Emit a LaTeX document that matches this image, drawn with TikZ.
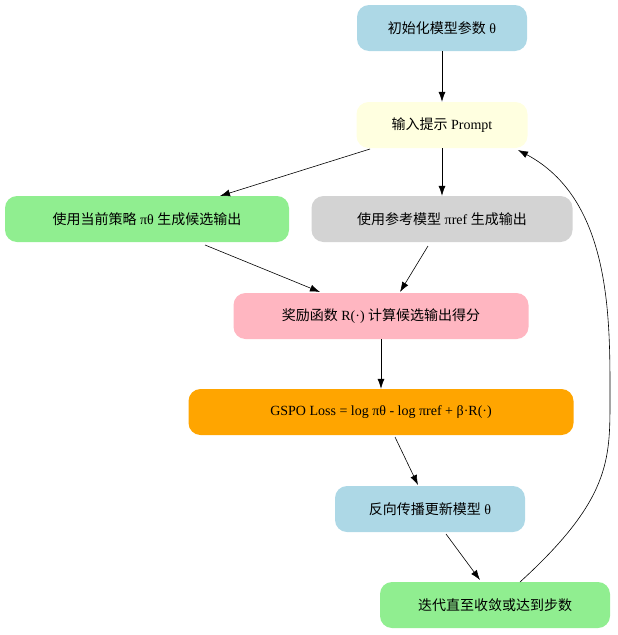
\documentclass[tikz,border=0pt]{standalone}
\usepackage{fontspec}
\setmainfont{Liberation Serif}
\newfontfamily\cjk{Noto Sans CJK SC}
\usetikzlibrary{arrows.meta}
\begin{document}
\begin{tikzpicture}[x=1pt,y=-1pt,
  box/.style={rounded corners=12pt,minimum height=46pt,inner sep=0pt,font=\fontsize{14}{16}\selectfont,anchor=center},
  arr/.style={-{Latex[length=10pt,width=7pt]},black,line width=0.6pt}]
\useasboundingbox (0,0) rectangle (618,635);
\node[box,fill=cyan!15!blue!5!white,fill={rgb,255:red,173;green,216;blue,230},minimum width=170pt] (n1) at (442,28) {{\cjk 初始化模型参数} θ};
\node[box,fill={rgb,255:red,255;green,255;blue,224},minimum width=171pt] (n2) at (442,125) {{\cjk 输入提示} Prompt};
\node[box,fill={rgb,255:red,144;green,238;blue,144},minimum width=284pt] (n3) at (147,219) {{\cjk 使用当前策略} πθ {\cjk 生成候选输出}};
\node[box,fill={rgb,255:red,211;green,211;blue,211},minimum width=261pt] (n4) at (442,219) {{\cjk 使用参考模型} πref {\cjk 生成输出}};
\node[box,fill={rgb,255:red,255;green,182;blue,193},minimum width=295pt] (n5) at (381,316) {{\cjk 奖励函数} R(·) {\cjk 计算候选输出得分}};
\node[box,fill={rgb,255:red,255;green,165;blue,0},minimum width=385pt] (n6) at (381,412) {GSPO Loss = log πθ - log πref + β·R(·)};
\node[box,fill={rgb,255:red,173;green,216;blue,230},minimum width=190pt] (n7) at (430,509) {{\cjk 反向传播更新模型} θ};
\node[box,fill={rgb,255:red,144;green,238;blue,144},minimum width=230pt] (n8) at (495,605) {{\cjk 迭代直至收敛或达到步数}};
\draw[arr] (n1) -- (n2);
\draw[arr] (370,149) -- (220,196);
\draw[arr] (n2) -- (n4);
\draw[arr] (205,245) -- (320,292);
\draw[arr] (428,246) -- (400,292);
\draw[arr] (n5) -- (n6);
\draw[arr] (395,437) -- (418,485);
\draw[arr] (446,534) -- (480,580);
\draw[arr] (520,582) .. controls (610,500) and (610,460) .. (610,400) .. controls (610,320) and (612,200) .. (518,150);
\end{tikzpicture}
\end{document}
